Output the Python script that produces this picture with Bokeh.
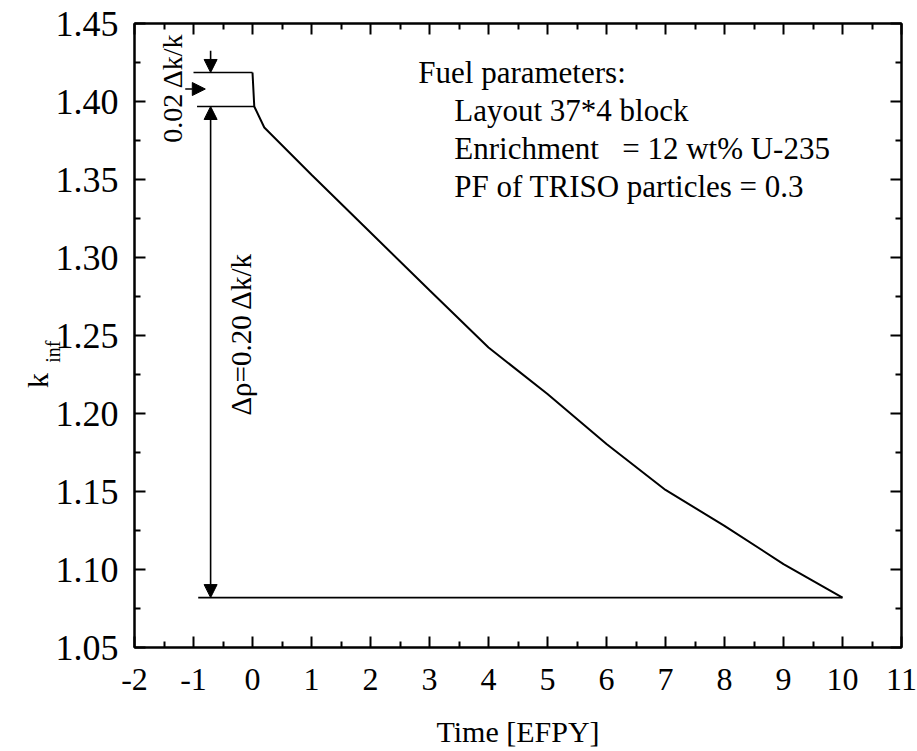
import math
from bokeh.plotting import figure
from bokeh.models import (Range1d, FixedTicker, NumeralTickFormatter, LinearAxis,
                          Label, Arrow, NormalHead, ColumnDataSource, CustomJSTickFormatter)
from bokeh.embed import file_html
from bokeh.resources import INLINE

# ---- data ----
time_efpy = [0.0, 0.03, 0.2, 1, 2, 3, 4, 5, 6, 7, 8, 9, 10]
k_inf = [1.4186, 1.3968, 1.3833, 1.353, 1.316, 1.279, 1.2423, 1.2125, 1.1804, 1.151, 1.128, 1.1035, 1.082]

# ticks
x_ticks = [-2, -1, 0, 1, 2, 3, 4, 5, 6, 7, 8, 9, 10, 11]
x_minor = [-1.5, -0.5, 0.5, 1.5, 2.5, 3.5, 4.5, 5.5, 6.5, 7.5, 8.5, 9.5, 10.5]
y_ticks = [1.05, 1.10, 1.15, 1.20, 1.25, 1.30, 1.35, 1.40, 1.45]
y_minor = [1.075, 1.125, 1.175, 1.225, 1.275, 1.325, 1.375, 1.425]

# annotation geometry (data units)
ref_line_start_x = [-1.0, -0.94, -0.92]      # horizontal reference lines start
arrow_x = -0.71                               # vertical dimension line
small_arrow_top_y = 1.4325
side_arrow_x = [-1.14, -0.80]
side_arrow_y = 1.408

info_lines = ["Fuel parameters:", "Layout 37*4 block",
              "Enrichment\u00a0\u00a0\u00a0= 12 wt% U-235", "PF of TRISO particles = 0.3"]
info_x = [2.81, 3.42, 3.42, 3.42]
info_y = [1.4184, 1.394, 1.3698, 1.3454]

FONT = "Liberation Serif"
NB = "\u00a0"

p = figure(width=917, height=751, output_backend="svg", toolbar_location=None,
           x_range=Range1d(-2, 11), y_range=Range1d(1.05, 1.45),
           min_border_left=134, min_border_right=16, min_border_top=23, min_border_bottom=104)
p.background_fill_color = "white"
p.border_fill_color = "white"
p.grid.visible = False
p.outline_line_color = "black"
p.outline_line_width = 2

def style_axis(ax, size):
    ax.axis_line_color = "black"
    ax.axis_line_width = 2
    ax.major_tick_in = 11
    ax.major_tick_out = 0
    ax.minor_tick_in = 6
    ax.minor_tick_out = 0
    ax.major_tick_line_width = 2
    ax.minor_tick_line_width = 2
    ax.major_tick_line_color = "black"
    ax.minor_tick_line_color = "black"
    ax.major_label_text_font = FONT
    ax.major_label_text_color = "black"
    ax.major_label_text_font_size = size

p.xaxis.ticker = FixedTicker(ticks=x_ticks, minor_ticks=x_minor)
p.yaxis.ticker = FixedTicker(ticks=y_ticks, minor_ticks=y_minor)
p.xaxis.formatter = CustomJSTickFormatter(code="return tick.toFixed(0);")
p.yaxis.formatter = NumeralTickFormatter(format="0.00")
style_axis(p.xaxis[0], "32px")
style_axis(p.yaxis[0], "36px")
p.xaxis.major_label_standoff = 21
p.yaxis.major_label_standoff = 16
p.xaxis.axis_label = "Time [EFPY]"
p.xaxis.axis_label_text_font = FONT
p.xaxis.axis_label_text_color = "black"
p.xaxis.axis_label_text_font_size = "30px"
p.xaxis.axis_label_text_font_style = "normal"
p.xaxis.axis_label_standoff = 22

# y title "k" with subscript "inf": subscript is the y-axis label, "k" sits on an outer bare axis
p.yaxis.axis_label = "inf" + NB
p.yaxis.axis_label_orientation = math.pi / 2
p.yaxis.axis_label_text_font = FONT
p.yaxis.axis_label_text_color = "black"
p.yaxis.axis_label_text_font_size = "20px"
p.yaxis.axis_label_text_font_style = "normal"
p.yaxis.axis_label_standoff = 0

kax = LinearAxis(ticker=FixedTicker(ticks=[]), axis_label="k" + NB * 5)
kax.axis_label_orientation = math.pi / 2
kax.axis_line_color = None
kax.major_tick_line_color = None
kax.minor_tick_line_color = None
kax.major_tick_in = 0
kax.major_tick_out = 0
kax.minor_tick_in = 0
kax.minor_tick_out = 0
kax.major_label_standoff = 0
kax.axis_label_standoff = -10
kax.axis_label_text_font = FONT
kax.axis_label_text_color = "black"
kax.axis_label_text_font_size = "30px"
kax.axis_label_text_font_style = "normal"
p.add_layout(kax, "left")

blank = CustomJSTickFormatter(code="return '';")
top = LinearAxis(ticker=FixedTicker(ticks=x_ticks, minor_ticks=x_minor), formatter=blank)
style_axis(top, "10px")
top.major_label_standoff = 0
p.add_layout(top, "above")
right = LinearAxis(ticker=FixedTicker(ticks=y_ticks, minor_ticks=y_minor), formatter=blank)
style_axis(right, "10px")
right.major_label_standoff = 0
p.add_layout(right, "right")

# main curve
src = ColumnDataSource(dict(x=time_efpy, y=k_inf))
p.line("x", "y", source=src, line_color="black", line_width=2)

# horizontal reference lines to BOL, after-Xe and EOL values
ref_idx = [0, 1, len(k_inf) - 1]
p.segment(x0=ref_line_start_x, y0=[k_inf[i] for i in ref_idx],
          x1=[time_efpy[i] for i in ref_idx], y1=[k_inf[i] for i in ref_idx],
          line_color="black", line_width=1.6)

# dimension arrows
head = lambda: NormalHead(size=13, fill_color="black", line_color="black", line_width=1)
p.add_layout(Arrow(start=head(), end=head(), x_start=arrow_x, y_start=k_inf[1],
                   x_end=arrow_x, y_end=k_inf[-1], line_width=1.6, line_color="black"))
p.add_layout(Arrow(end=head(), x_start=arrow_x, y_start=small_arrow_top_y,
                   x_end=arrow_x, y_end=k_inf[0], line_width=1.6, line_color="black"))
p.add_layout(Arrow(end=head(), x_start=side_arrow_x[0], y_start=side_arrow_y,
                   x_end=side_arrow_x[1], y_end=side_arrow_y, line_width=1.6, line_color="black"))

# rotated annotation texts
p.add_layout(Label(x=-1.36, y=1.4088, text="0.02 \u0394k/k", angle=math.pi / 2,
                   text_align="center", text_baseline="middle", text_font=FONT,
                   text_font_size="28px", text_color="black"))
p.add_layout(Label(x=-0.19, y=1.251, text="\u0394\u03c1=0.20 \u0394k/k", angle=math.pi / 2,
                   text_align="center", text_baseline="middle", text_font=FONT,
                   text_font_size="29px", text_color="black"))

# fuel parameter block
for t, x, y in zip(info_lines, info_x, info_y):
    p.add_layout(Label(x=x, y=y, text=t, text_align="left", text_baseline="middle",
                       text_font=FONT, text_font_size="31px", text_color="black"))

open("out.html", "w").write(file_html(p, INLINE))
